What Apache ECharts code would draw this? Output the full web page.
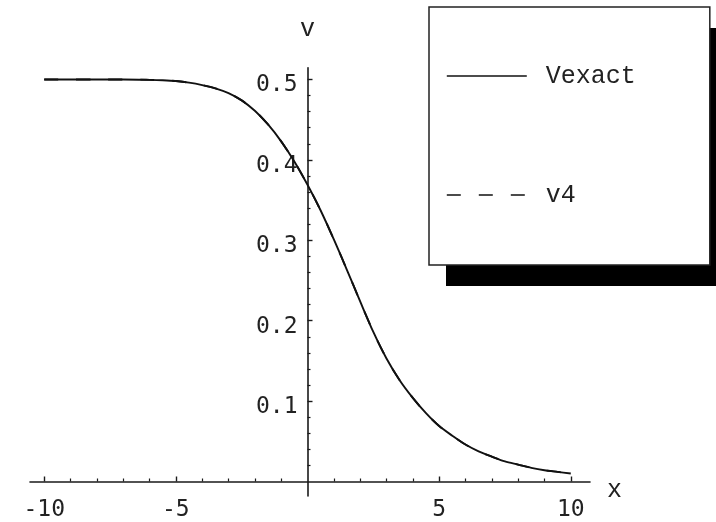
<!DOCTYPE html>
<html>
<head>
<meta charset="utf-8">
<style>
  html, body { margin: 0; padding: 0; background: #fff; }
  #chart { width: 716px; height: 522px; }
</style>
<script src="https://cdn.jsdelivr.net/npm/echarts@6/dist/echarts.min.js"></script>
</head>
<body>
<div id="chart"></div>
<script>
// sample positions along x
const xs = [-10, -9, -8, -7, -6, -5.5, -5, -4.5, -4, -3.5, -3, -2.5, -2, -1.5, -1, -0.5,
            0, 0.5, 1, 1.5, 2, 2.5, 3, 3.5, 4, 4.5, 5, 5.5, 6, 6.5, 7, 7.5, 8, 8.5, 9, 9.5, 10];

// exact profile
const vExact = [0.500, 0.500, 0.500, 0.500, 0.4995, 0.499, 0.498, 0.496, 0.493, 0.489, 0.483, 0.474, 0.461, 0.444, 0.423, 0.398,
                0.369, 0.337, 0.301, 0.263, 0.224, 0.186, 0.153, 0.126, 0.104, 0.085, 0.069, 0.057, 0.046, 0.0375, 0.031, 0.025, 0.021, 0.017, 0.014, 0.012, 0.010];

// fourth-order approximation
const v4 = [0.500, 0.500, 0.500, 0.500, 0.4995, 0.499, 0.498, 0.496, 0.493, 0.489, 0.483, 0.474, 0.461, 0.444, 0.423, 0.398,
            0.369, 0.337, 0.301, 0.263, 0.224, 0.186, 0.153, 0.126, 0.104, 0.085, 0.069, 0.057, 0.046, 0.0375, 0.031, 0.025, 0.021, 0.017, 0.014, 0.012, 0.010];

// tick positions
const xMajorTicks = [-10, -5, 5, 10];
const xMinorTicks = [-9, -8, -7, -6, -4, -3, -2, -1, 1, 2, 3, 4, 6, 7, 8, 9];
const yMajorTicks = [0.1, 0.2, 0.3, 0.4, 0.5];
const yMinorTicks = [0.02, 0.04, 0.06, 0.08, 0.12, 0.14, 0.16, 0.18, 0.22, 0.24, 0.26, 0.28,
                     0.32, 0.34, 0.36, 0.38, 0.42, 0.44, 0.46, 0.48];

const X_MIN = -10.54, X_MAX = 10.73;
const Y_MIN = -0.018, Y_MAX = 0.5146;

const ink = '#1a1a1a';
const tickFont = { fontFamily: 'DejaVu Sans Mono', fontSize: 23, color: '#222' };
const serifMono = 'Liberation Mono';

function pairs(values) {
  return xs.map((x, i) => [x, values[i]]);
}

const chart = echarts.init(document.getElementById('chart'), null, { renderer: 'canvas' });

const xBase = {
  type: 'value', min: X_MIN, max: X_MAX, position: 'bottom',
  splitLine: { show: false }, offset: -14.5,
  axisLine: { onZero: false }
};
const yBase = {
  type: 'value', min: Y_MIN, max: Y_MAX, position: 'left',
  splitLine: { show: false }, offset: -277.5,
  axisLine: { onZero: false }
};

const hidden = 'rgba(0,0,0,0)';

chart.setOption({
  animation: false,
  backgroundColor: '#fff',
  grid: { left: 30, right: 126, top: 67.7, bottom: 26, containLabel: false },
  xAxis: [
    Object.assign({}, xBase, {
      name: 'x', nameLocation: 'end', nameGap: 17,
      nameTextStyle: { fontFamily: serifMono, fontSize: 25, color: '#222', align: 'left', verticalAlign: 'top', lineHeight: 18 },
      axisLine: { show: true, onZero: false, lineStyle: { color: ink, width: 1.6 } },
      axisTick: { show: true, inside: true, length: 5, customValues: xMajorTicks, lineStyle: { color: ink, width: 1.4 } },
      axisLabel: Object.assign({ show: true, margin: 17, customValues: xMajorTicks }, tickFont)
    }),
    Object.assign({}, xBase, {
      axisLine: { show: false, onZero: false },
      axisTick: { show: true, inside: true, length: 3, customValues: xMinorTicks, lineStyle: { color: ink, width: 1.2 } },
      axisLabel: { show: false }
    })
  ],
  yAxis: [
    Object.assign({}, yBase, {
      name: 'v', nameLocation: 'end', nameGap: 26,
      nameTextStyle: { fontFamily: serifMono, fontSize: 25, color: '#222', align: 'center', verticalAlign: 'bottom' },
      axisLine: { show: true, onZero: false, lineStyle: { color: ink, width: 1.6 } },
      axisTick: { show: true, inside: true, length: 5, customValues: yMajorTicks, lineStyle: { color: ink, width: 1.4 } },
      axisLabel: Object.assign({ show: true, margin: 10, customValues: yMajorTicks, verticalAlign: 'top', lineHeight: 12 }, tickFont)
    }),
    Object.assign({}, yBase, {
      axisLine: { show: false, onZero: false },
      axisTick: { show: true, inside: true, length: 3, customValues: yMinorTicks, lineStyle: { color: ink, width: 1.2 } },
      axisLabel: { show: false }
    })
  ],
  legend: [
    {
      // framed key box
      z: 6,
      orient: 'vertical',
      left: 429, top: 7,
      padding: [56.5, 74, 57.5, 17],
      itemWidth: 80, itemHeight: 25, itemGap: 94,
      backgroundColor: '#fff',
      borderColor: '#222', borderWidth: 1.5,
      selectedMode: false,
      textStyle: { fontFamily: serifMono, fontSize: 25, color: '#222', padding: [0, 0, 0, 14] },
      data: [
        { name: 'Vexact', itemStyle: { color: hidden, borderWidth: 0 }, lineStyle: { type: 'solid', width: 1.6, color: '#111' } },
        { name: 'v4', itemStyle: { color: hidden, borderWidth: 0 }, lineStyle: { type: [14, 18], width: 1.6, color: '#111' } }
      ]
    },
    {
      // solid drop shadow behind the key box
      z: 3,
      orient: 'vertical',
      left: 446, top: 28,
      padding: [116.5, 114, 116.5, 52],
      itemWidth: 80, itemHeight: 25,
      backgroundColor: '#000',
      borderWidth: 0,
      selectedMode: false,
      textStyle: { fontFamily: serifMono, fontSize: 25, color: '#000' },
      data: [
        { name: 'v4', itemStyle: { color: '#000', borderWidth: 0 }, lineStyle: { type: 'solid', width: 1, color: '#000' } }
      ]
    }
  ],
  series: [
    {
      name: 'Vexact', type: 'line', xAxisIndex: 0, yAxisIndex: 0,
      data: pairs(vExact), smooth: 0.3, symbol: 'none',
      lineStyle: { color: '#111', width: 1.9, type: 'solid' }
    },
    {
      name: 'v4', type: 'line', xAxisIndex: 0, yAxisIndex: 0,
      data: pairs(v4), smooth: 0.3, symbol: 'none',
      lineStyle: { color: '#111', width: 1.9, type: [14, 18] }
    }
  ]
});
</script>
</body>
</html>
